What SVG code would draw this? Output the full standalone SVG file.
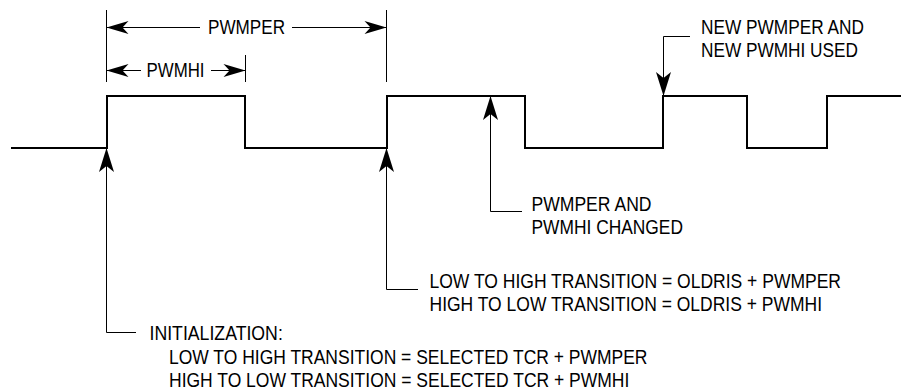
<svg xmlns="http://www.w3.org/2000/svg" width="901" height="391" viewBox="0 0 901 391">
  <style>
    .t { font-family: "Liberation Sans", Arial, Helvetica, sans-serif; font-size: 17.4px; fill: #000; }
    .thin { fill: none; stroke: #000; stroke-width: 1; }
    .wave { fill: none; stroke: #000; stroke-width: 2; stroke-linejoin: miter; }
  </style>
  <defs>
    <marker id="bigArrow" markerUnits="userSpaceOnUse" markerWidth="26" markerHeight="16" viewBox="-25 -8 26 16" refX="0" refY="0" orient="auto" style="overflow:visible">
      <path d="M0,0 L-24,-7.5 L-18,0 L-24,7.5 Z" fill="#000"/>
    </marker>
    <marker id="dimArrow" markerUnits="userSpaceOnUse" markerWidth="24" markerHeight="14" viewBox="-23 -7 24 14" refX="0" refY="0" orient="auto-start-reverse" style="overflow:visible">
      <path d="M0,0 L-22,-6.5 L-16,0 L-22,6.5 Z" fill="#000"/>
    </marker>
  </defs>

  <g id="waveform">
    <path class="wave" d="M11,148 H107 V96 H245 V148 H387 V96 H525 V148 H663 V96 H747 V148 H827 V96 H901"/>
  </g>

  <g id="connectors">
    <path class="thin" d="M106.5,10 V82 M386.5,10 V82 M245.5,55 V82"/>
    <path class="thin" d="M200,27.5 H106.5" marker-end="url(#dimArrow)"/>
    <path class="thin" d="M292,27.5 H386.5" marker-end="url(#dimArrow)"/>
    <path class="thin" d="M141,70.5 H106.5" marker-end="url(#dimArrow)"/>
    <path class="thin" d="M211,70.5 H245.5" marker-end="url(#dimArrow)"/>
    <path class="thin" d="M136,332.5 H106.5 V148" marker-end="url(#bigArrow)"/>
    <path class="thin" d="M418,289.5 H386.5 V148" marker-end="url(#bigArrow)"/>
    <path class="thin" d="M522,211.5 H490.5 V96" marker-end="url(#bigArrow)"/>
    <path class="thin" d="M690,36.5 H663.5 V96" marker-end="url(#bigArrow)"/>
  </g>

  <g id="label-pwmper">
    <text class="t" transform="translate(208,34) scale(1,1.2)" textLength="77" lengthAdjust="spacingAndGlyphs">PWMPER</text>
  </g>
  <g id="label-pwmhi">
    <text class="t" transform="translate(146.5,77) scale(1,1.2)" textLength="58" lengthAdjust="spacingAndGlyphs">PWMHI</text>
  </g>
  <g id="label-new-used">
    <text class="t" transform="translate(701,34) scale(1,1.2)" textLength="163" lengthAdjust="spacingAndGlyphs">NEW PWMPER AND</text>
    <text class="t" transform="translate(701,56.5) scale(1,1.2)" textLength="157" lengthAdjust="spacingAndGlyphs">NEW PWMHI USED</text>
  </g>
  <g id="label-changed">
    <text class="t" transform="translate(531.5,211) scale(1,1.2)" textLength="120" lengthAdjust="spacingAndGlyphs">PWMPER AND</text>
    <text class="t" transform="translate(531.5,234) scale(1,1.2)" textLength="151.5" lengthAdjust="spacingAndGlyphs">PWMHI CHANGED</text>
  </g>
  <g id="label-oldris">
    <text class="t" transform="translate(429.5,287.5) scale(1,1.2)" textLength="411.5" lengthAdjust="spacingAndGlyphs">LOW TO HIGH TRANSITION = OLDRIS + PWMPER</text>
    <text class="t" transform="translate(429.5,310.5) scale(1,1.2)" textLength="392.5" lengthAdjust="spacingAndGlyphs">HIGH TO LOW TRANSITION = OLDRIS + PWMHI</text>
  </g>
  <g id="label-init">
    <text class="t" transform="translate(149.5,340) scale(1,1.2)" textLength="133.3" lengthAdjust="spacingAndGlyphs">INITIALIZATION:</text>
    <text class="t" transform="translate(169,364) scale(1,1.2)" textLength="478.5" lengthAdjust="spacingAndGlyphs">LOW TO HIGH TRANSITION = SELECTED TCR + PWMPER</text>
    <text class="t" transform="translate(169,386.5) scale(1,1.2)" textLength="460.3" lengthAdjust="spacingAndGlyphs">HIGH TO LOW TRANSITION = SELECTED TCR + PWMHI</text>
  </g>
</svg>
